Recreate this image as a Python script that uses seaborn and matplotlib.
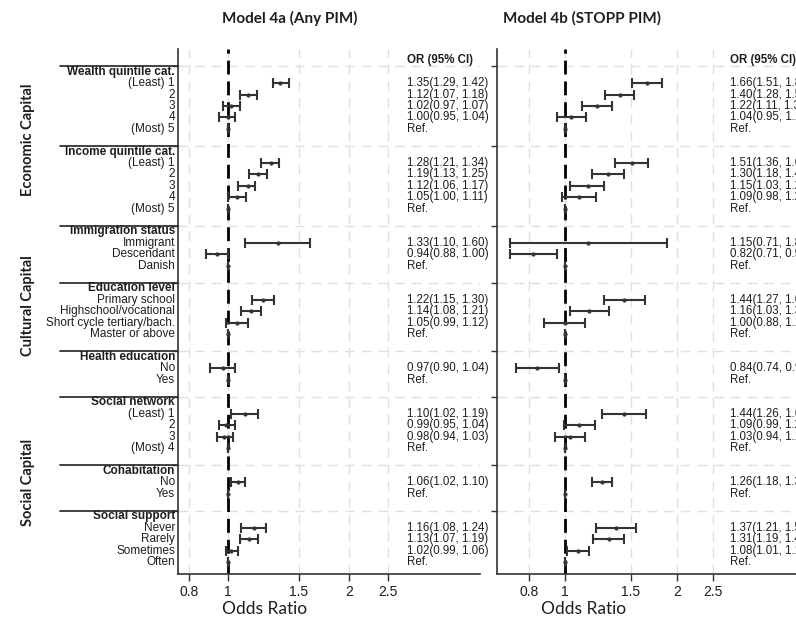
import numpy as np
import pandas as pd
import matplotlib
matplotlib.use("Agg")
import matplotlib.pyplot as plt
import matplotlib.transforms as mtransforms
import seaborn as sns

# 分组与类别
groups = ["Wealth quintile cat.", "Income quintile cat.", "Immigration status",
          "Education level", "Health education", "Social network",
          "Cohabitation", "Social support"]
levels = [
    ["(Least) 1", "2", "3", "4", "(Most) 5"],
    ["(Least) 1", "2", "3", "4", "(Most) 5"],
    ["Immigrant", "Descendant", "Danish"],
    ["Primary school", "Highschool/vocational", "Short cycle tertiary/bach.", "Master or above"],
    ["No", "Yes"],
    ["(Least) 1", "2", "3", "(Most) 4"],
    ["No", "Yes"],
    ["Never", "Rarely", "Sometimes", "Often"],
]
capitals = ["Economic Capital", "Cultural Capital", "Social Capital"]
capital_groups = [[0, 1], [2, 3, 4], [5, 6, 7]]

# 参考组
is_ref = [0, 0, 0, 0, 1, 0, 0, 0, 0, 1, 0, 0, 1, 0, 0, 0, 1, 0, 1, 0, 0, 0, 1, 0, 1, 0, 0, 0, 1]

# Model 4a (Any PIM)
or_any = [1.35, 1.12, 1.02, 1.00, 1, 1.28, 1.19, 1.12, 1.05, 1, 1.33, 0.94, 1,
          1.22, 1.14, 1.05, 1, 0.97, 1, 1.10, 0.99, 0.98, 1, 1.06, 1, 1.16, 1.13, 1.02, 1]
lo_any = [1.29, 1.07, 0.97, 0.95, 1, 1.21, 1.13, 1.06, 1.00, 1, 1.10, 0.88, 1,
          1.15, 1.08, 0.99, 1, 0.90, 1, 1.02, 0.95, 0.94, 1, 1.02, 1, 1.08, 1.07, 0.99, 1]
hi_any = [1.42, 1.18, 1.07, 1.04, 1, 1.34, 1.25, 1.17, 1.11, 1, 1.60, 1.00, 1,
          1.30, 1.21, 1.12, 1, 1.04, 1, 1.19, 1.04, 1.03, 1, 1.10, 1, 1.24, 1.19, 1.06, 1]

# Model 4b (STOPP PIM)
or_stopp = [1.66, 1.40, 1.22, 1.04, 1, 1.51, 1.30, 1.15, 1.09, 1, 1.15, 0.82, 1,
            1.44, 1.16, 1.00, 1, 0.84, 1, 1.44, 1.09, 1.03, 1, 1.26, 1, 1.37, 1.31, 1.08, 1]
lo_stopp = [1.51, 1.28, 1.11, 0.95, 1, 1.36, 1.18, 1.03, 0.98, 1, 0.71, 0.71, 1,
            1.27, 1.03, 0.88, 1, 0.74, 1, 1.26, 0.99, 0.94, 1, 1.18, 1, 1.21, 1.19, 1.01, 1]
hi_stopp = [1.82, 1.53, 1.34, 1.14, 1, 1.67, 1.44, 1.27, 1.21, 1, 1.88, 0.95, 1,
            1.64, 1.31, 1.13, 1, 0.96, 1, 1.65, 1.20, 1.13, 1, 1.34, 1, 1.55, 1.44, 1.16, 1]

xticks = [0.8, 1, 1.5, 2, 2.5]
xticklabels = ["0.8", "1", "1.5", "2", "2.5"]
titles = ["Model 4a (Any PIM)", "Model 4b (STOPP PIM)"]

sns.set_style("white")
plt.rcParams['font.family'] = ['Liberation Sans', 'DejaVu Sans']

# 计算行位置
header_rows = []
item_rows = []
item_labels = []
row = 0
for g, lv in zip(groups, levels):
    header_rows.append(row)
    for i, l in enumerate(lv):
        item_rows.append(row + 1 + i)
        item_labels.append(l)
    row += len(lv) + 2
sep_rows = [h - 0.5 for h in header_rows]

W, H = 796, 618
fig = plt.figure(figsize=(W / 100, H / 100), dpi=100)

ax_pos = [[178, 49, 302, 524.5], [497, 49, 302, 524.5]]
xlims = [(0.751, 4.23), (0.656, 4.25)]
models = [(or_any, lo_any, hi_any), (or_stopp, lo_stopp, hi_stopp)]
line_col = "#333333"
text_col = "#1e1e1e"

axes = []
for k in range(2):
    x0, y0, w, h = ax_pos[k]
    ax = fig.add_axes([x0 / W, (H - y0 - h) / H, w / W, h / H])
    axes.append(ax)
    est, lo, hi = models[k]
    df = pd.DataFrame({"row": item_rows, "or": est, "lo": lo, "hi": hi, "ref": is_ref})

    ax.set_xscale("log")
    ax.set_xlim(*xlims[k])
    ax.set_ylim(44, -2)

    # 网格线
    for xt in xticks:
        ax.axvline(xt, color="#e0e0e0", lw=1, ls=(0, (7, 5)), zorder=0)
    for s in sep_rows:
        ax.axhline(s, color="#e0e0e0", lw=1, ls=(0, (7, 5)), zorder=0)
    ax.axvline(1, color="black", lw=2, ls=(0, (5, 2.5)), zorder=1)

    # 置信区间
    ax.errorbar(df["or"], df["row"], xerr=[df["or"] - df["lo"], df["hi"] - df["or"]],
                fmt="none", ecolor=line_col, elinewidth=1.5, capsize=3.5, capthick=1.5, zorder=3)
    sns.scatterplot(data=df, x="or", y="row", ax=ax, color=line_col, s=7,
                    edgecolor=line_col, linewidth=0.3, legend=False, zorder=4)

    # OR 文本
    ax.text(2.78, -1, "OR (95% CI)", fontsize=8.3, fontweight="bold", color=text_col, va="center")
    for r, e, l_, h_, rf in zip(item_rows, est, lo, hi, is_ref):
        t = "Ref." if rf else f"{e:.2f}({l_:.2f}, {h_:.2f})"
        ax.text(2.78, r, t, fontsize=8.3, color=text_col, va="center")

    ax.set_xticks(xticks)
    ax.set_xticklabels(xticklabels)
    ax.xaxis.set_minor_locator(matplotlib.ticker.NullLocator())
    ax.set_yticks(sep_rows)
    ax.set_yticklabels([])
    ax.tick_params(axis="x", direction="out", length=5, width=1, color=line_col,
                   labelsize=10, labelcolor=text_col, pad=3, bottom=True)
    ax.tick_params(axis="y", direction="out", length=4, width=1, color=line_col, left=True)
    ax.set_xlabel("")
    ax.set_ylabel("")
    for sp in ["top", "right"]:
        ax.spines[sp].set_visible(False)
    for sp in ["left", "bottom"]:
        ax.spines[sp].set_color(line_col)
        ax.spines[sp].set_linewidth(1.2)

    fig.text(((x0 + 87)) / W, 1 - 609 / H, "Odds Ratio", fontsize=12.5, family="Lato",
             color=text_col, ha="center", va="center")

fig.text(290 / W, 1 - 18 / H, titles[0], fontsize=11, fontweight="bold", family="Lato",
         color=text_col, ha="center", va="center")
fig.text(582 / W, 1 - 18 / H, titles[1], fontsize=11, fontweight="bold", family="Lato",
         color=text_col, ha="center", va="center")

# 左侧标签
ax = axes[0]
trans = mtransforms.blended_transform_factory(ax.transAxes, ax.transData)
for g, hr in zip(groups, header_rows):
    ax.text(-0.01, hr, g, transform=trans, ha="right", va="center", fontsize=8.5,
            fontweight="bold", color=text_col)
for l, r in zip(item_labels, item_rows):
    ax.text(-0.01, r, l, transform=trans, ha="right", va="center", fontsize=8.5, color=text_col)
for s in sep_rows:
    ax.plot([-118 / 302, 0], [s, s], transform=trans, color=line_col, lw=1.3, clip_on=False)

for cap, gi in zip(capitals, capital_groups):
    top = header_rows[gi[0]] - 0.5
    last = gi[-1]
    bot = header_rows[last] + len(levels[last]) + 0.5
    ax.text(-150 / 302, (top + bot) / 2, cap, transform=trans, rotation=90, ha="center",
            va="center", fontsize=10.5, fontweight="bold", family="Lato", color=text_col)

fig.savefig("out.png", dpi=100)
